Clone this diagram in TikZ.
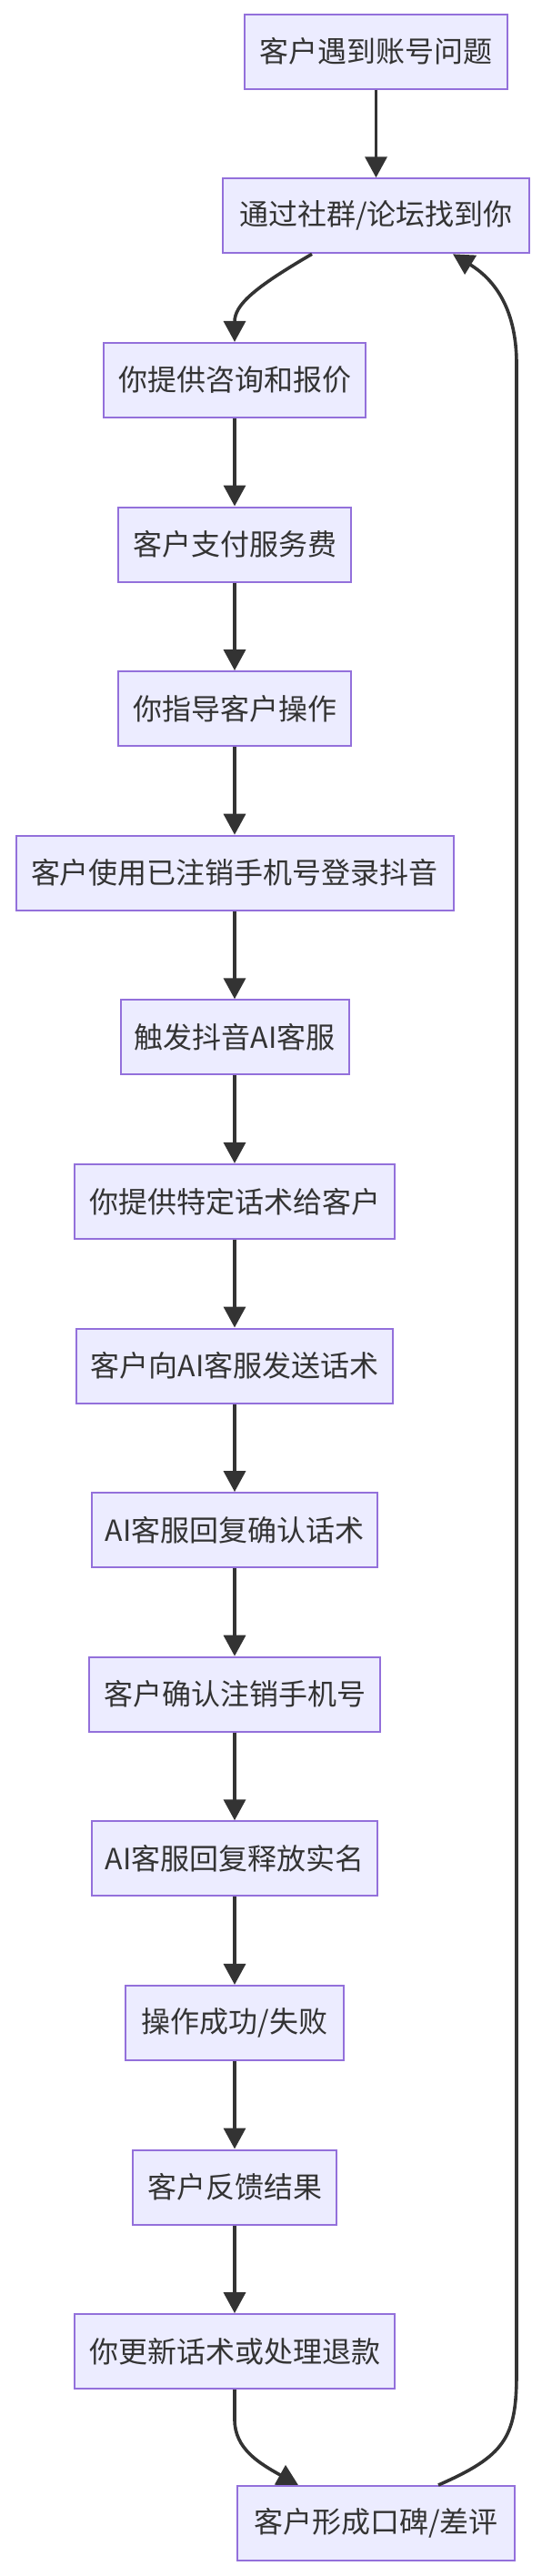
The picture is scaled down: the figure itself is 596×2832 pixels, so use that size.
\documentclass[tikz,border=0pt]{standalone}
\usepackage{fontspec}
\setmainfont{Noto Sans CJK SC}
\usetikzlibrary{arrows.meta,calc}
\definecolor{boxfill}{HTML}{ECECFF}
\definecolor{boxline}{HTML}{9370DB}
\definecolor{ink}{HTML}{333333}
\tikzset{
  stepbox/.style={draw=boxline, fill=boxfill, line width=2pt, minimum height=82pt,
    inner xsep=0pt, inner ysep=0pt, text=ink, font=\fontsize{32}{38}\selectfont},
  flow/.style={draw=ink, line width=3.6pt, -{Triangle[length=23pt,width=24pt]}}
}
\begin{document}
\begin{tikzpicture}[x=1pt,y=-1pt]
\useasboundingbox (0,0) rectangle (596,2832);
\node[stepbox, minimum width=289pt] (n0) at (413.5,56.7) {客户遇到账号问题};
\node[stepbox, minimum width=337pt] (n1) at (413.5,237.3) {通过社群/论坛找到你};
\node[stepbox, minimum width=288pt] (n2) at (258,417.9) {你提供咨询和报价};
\node[stepbox, minimum width=256pt] (n3) at (258,598.5) {客户支付服务费};
\node[stepbox, minimum width=256pt] (n4) at (258,779.1) {你指导客户操作};
\node[stepbox, minimum width=481pt] (n5) at (258,959.7) {客户使用已注销手机号登录抖音};
\node[stepbox, minimum width=251pt] (n6) at (258,1140.3) {触发抖音AI客服};
\node[stepbox, minimum width=352pt] (n7) at (258,1320.9) {你提供特定话术给客户};
\node[stepbox, minimum width=348pt] (n8) at (258,1501.5) {客户向AI客服发送话术};
\node[stepbox, minimum width=314pt] (n9) at (258,1682.1) {AI客服回复确认话术};
\node[stepbox, minimum width=320pt] (n10) at (258,1862.7) {客户确认注销手机号};
\node[stepbox, minimum width=314pt] (n11) at (258,2043.3) {AI客服回复释放实名};
\node[stepbox, minimum width=240pt] (n12) at (258,2223.9) {操作成功/失败};
\node[stepbox, minimum width=224pt] (n13) at (258,2404.5) {客户反馈结果};
\node[stepbox, minimum width=352pt] (n14) at (258,2585.1) {你更新话术或处理退款};
\node[stepbox, minimum width=305pt] (n15) at (413.5,2774) {客户形成口碑/差评};

\draw[flow] (n0) -- (n1);
\draw[flow] ($(n1.south west)+(99,0)$) .. controls (280,316) and (258,335) .. (n2.north);
\foreach \a/\b in {2/3,3/4,4/5,5/6,6/7,7/8,8/9,9/10,10/11,11/12,12/13,13/14}
  \draw[flow] (n\a) -- (n\b);
\draw[flow] (n14.south) -- (258,2660) .. controls (258,2692) and (285,2708) .. ($(n15.north west)+(68,0)$);
\draw[flow] ($(n15.north west)+(222,0)$) .. controls (555,2700) and (568,2680) .. (568,2610)
  -- (568,400) .. controls (568,335) and (540,305) .. ($(n1.south east)+(-85,0)$);
\end{tikzpicture}
\end{document}
